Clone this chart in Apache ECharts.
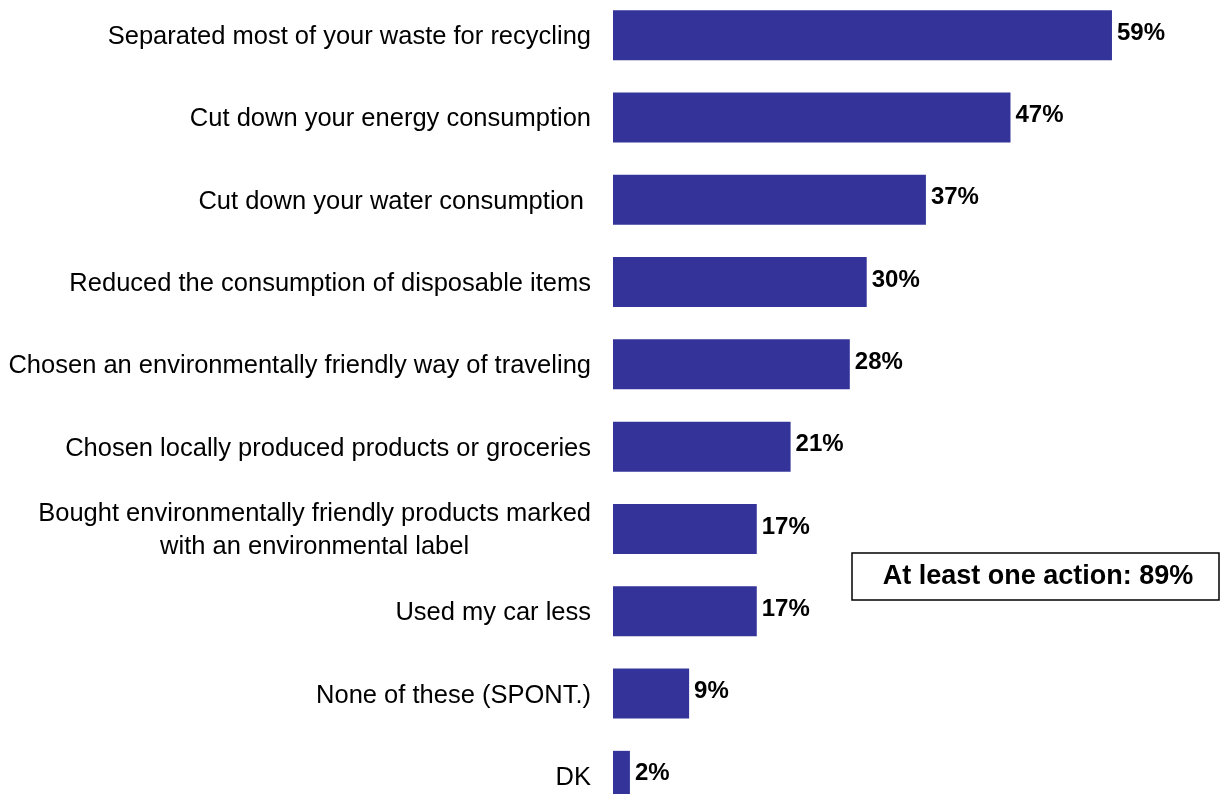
<!DOCTYPE html>
<html><head><meta charset="utf-8">
<script src="https://cdn.jsdelivr.net/npm/echarts@6/dist/echarts.min.js"></script>
<style>html,body{margin:0;padding:0;background:#fff}#c{width:1221px;height:794px}</style>
</head><body><div id="c"></div>
<script>
const categories = [
  'Separated most of your waste for recycling',
  'Cut down your energy consumption',
  'Cut down your water consumption ',
  'Reduced the consumption of disposable items',
  'Chosen an environmentally friendly way of traveling',
  'Chosen locally produced products or groceries',
  'Bought environmentally friendly products marked\nwith an environmental label',
  'Used my car less',
  'None of these (SPONT.)',
  'DK'
];
const values = [59, 47, 37, 30, 28, 21, 17, 17, 9, 2];
const boxText = 'At least one action: 89%';

const chart = echarts.init(document.getElementById('c'));
chart.setOption({
  animation: false,
  grid: { left: 613, top: -6, height: 823, width: 592, containLabel: false, outerBoundsMode: 'none' },
  xAxis: { type: 'value', min: 0, max: 70, show: false },
  yAxis: {
    type: 'category', data: categories, inverse: true,
    axisLine: { show: false }, axisTick: { show: false },
    axisLabel: {
      margin: 22, fontFamily: 'Liberation Sans', fontSize: 25.5, color: '#000', lineHeight: 33,
      padding: [4, 0, 0, 0],
      formatter: function (v) {
        return v.indexOf('\n') >= 0 ? v.split('\n').map(l => '{c|' + l + '}').join('\n') : v;
      },
      rich: { c: { align: 'center', fontFamily: 'Liberation Sans', fontSize: 25.5, color: '#000', lineHeight: 33 } }
    }
  },
  series: [{
    type: 'bar', data: values, barWidth: 50,
    itemStyle: { color: '#333399' },
    label: {
      show: true, position: 'right', distance: 5, offset: [0, -2], formatter: '{c}%',
      fontFamily: 'Liberation Sans', fontWeight: 'bold', fontSize: 24, color: '#000'
    }
  }],
  graphic: [
    { type: 'rect', shape: { x: 852, y: 553, width: 367, height: 47 },
      style: { fill: '#fff', stroke: '#000', lineWidth: 1.5 } },
    { type: 'text', x: 1038, y: 577,
      style: { text: boxText, fill: '#000', font: 'bold 27px "Liberation Sans"', align: 'center', verticalAlign: 'middle' } }
  ]
});
</script></body></html>
